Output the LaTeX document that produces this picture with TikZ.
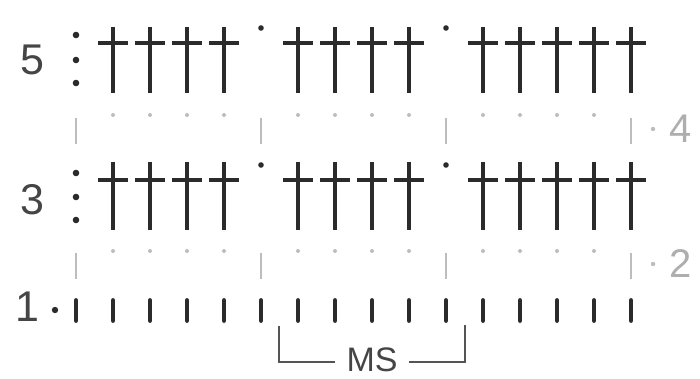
\documentclass[tikz,border=0pt]{standalone}
\usepackage{fontspec}
\setmainfont{Liberation Sans}
\definecolor{ink}{HTML}{2B2B2B}
\definecolor{lab}{HTML}{454545}
\definecolor{faint}{HTML}{BDBDBD}
\definecolor{faintlab}{HTML}{AEAEAE}
\definecolor{brk}{HTML}{555555}
\begin{document}
\begin{tikzpicture}[x=1pt,y=-1pt,
  trebstroke/.style={draw=ink,line width=3.6pt},
  scstroke/.style={draw=ink,line width=4.8pt,line cap=round},
  faintline/.style={draw=faint,line width=2.6pt},
  inkdot/.style={fill=ink},
  faintdot/.style={fill=faint},
  numlab/.style={inner sep=0pt,text=lab,font=\fontsize{43}{43}\selectfont},
  sidelab/.style={inner sep=0pt,text=faintlab,font=\fontsize{40}{40}\selectfont},
  mslab/.style={inner sep=0pt,text=lab,font=\fontsize{34}{34}\selectfont},
  bracket/.style={draw=brk,line width=2.4pt}]
\useasboundingbox (0,0) rectangle (700,379);
\fill[white] (0,0) rectangle (700,379);

% trebles (rows 5 and 3)
\foreach \yt/\yc/\yb in {27/43/93, 162/180/230}{
  \foreach \c in {1,2,3,4,6,7,8,9,11,12,13,14,15}{
    \pgfmathsetmacro\xx{76+37*\c}
    \draw[trebstroke] (\xx,\yt) -- (\xx,\yb);
    \draw[trebstroke] (\xx-15,\yc) -- (\xx+15,\yc);
  }
}
% turning chains: three dots at column 0
\foreach \y in {35,60,83,173,197,220}{
  \fill[inkdot] (76,\y) circle (3.3pt);
}
% slip stitch dots at columns 5 and 10
\foreach \c/\y in {5/28,10/28,5/165,10/165}{
  \pgfmathsetmacro\xx{76+37*\c}
  \fill[inkdot] (\xx,\y) circle (2.8pt);
}
% row 1 short stitches
\foreach \c in {0,...,15}{
  \pgfmathsetmacro\xx{76+37*\c}
  \draw[scstroke] (\xx,300.5) -- (\xx,320.5);
}
\fill[inkdot] (55,310) circle (3.2pt);

% faint rows 4 and 2
\foreach \yd/\ya/\yb in {115/118/144, 251/253/279}{
  \foreach \c in {1,2,3,4,6,7,8,9,11,12,13,14}{
    \pgfmathsetmacro\xx{76+37*\c}
    \fill[faintdot] (\xx,\yd) circle (2pt);
  }
  \foreach \c in {0,5,10,15}{
    \pgfmathsetmacro\xx{76+37*\c}
    \draw[faintline] (\xx,\ya) -- (\xx,\yb);
  }
}
\fill[faintdot] (653,129) circle (2.2pt);
\fill[faintdot] (653,264) circle (2.2pt);

% labels
\node[numlab] (r5) at (32,60) {5};
\node[numlab] (r3) at (32,200) {3};
\node[numlab] (r1) at (27,307) {1};
\node[sidelab] (r4) at (681,129) {4};
\node[sidelab] (r2) at (681,264) {2};
\node[mslab,anchor=base] (ms) at (372,371) {MS};

% bracket
\coordinate (bl) at (279,326);
\coordinate (blc) at (279,362);
\coordinate (ble) at (335,362);
\coordinate (bre) at (409,362);
\coordinate (brc) at (465,362);
\coordinate (br) at (465,325);
\draw[bracket] (bl) -- (blc) -- (ble);
\draw[bracket] (bre) -- (brc) -- (br);
\end{tikzpicture}
\end{document}
